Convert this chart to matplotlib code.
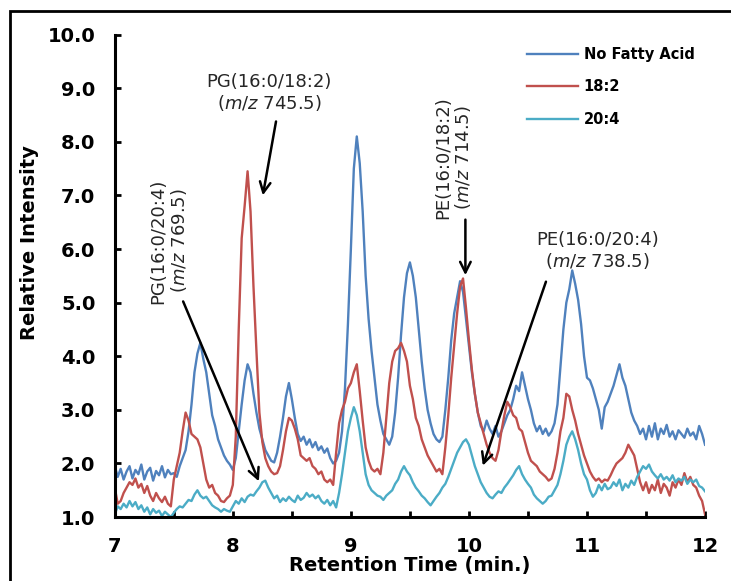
import numpy as np
import matplotlib
matplotlib.use("Agg")
import matplotlib.pyplot as plt
from matplotlib.patches import Rectangle
from matplotlib.ticker import MultipleLocator, FormatStrFormatter

plt.rcParams['font.family'] = ['DejaVu Sans']

# retention time grid (min.), one reading every 0.025 min
rt = np.linspace(7, 12, 201)

no_fatty_acid = [
    1.95, 1.75, 1.90, 1.70, 1.85, 1.95, 1.72, 1.88, 1.80, 1.98, 1.70, 1.85, 1.92, 1.68, 1.86, 1.78, 1.95, 1.74, 1.88, 1.80,
    1.82, 1.75, 1.95, 2.10, 2.25, 2.60, 3.10, 3.70, 4.05, 4.25, 3.95, 3.70, 3.30, 2.90, 2.70, 2.45, 2.30, 2.15, 2.05, 1.98,
    1.88, 2.10, 2.60, 3.10, 3.55, 3.85, 3.70, 3.30, 2.95, 2.65, 2.45, 2.25, 2.15, 2.05, 2.02, 2.20, 2.50, 2.85, 3.25, 3.50,
    3.20, 2.85, 2.55, 2.42, 2.50, 2.35, 2.45, 2.30, 2.40, 2.25, 2.32, 2.20, 2.28, 2.10, 2.00, 2.05, 2.20, 2.60, 3.40, 4.60,
    6.00, 7.50, 8.10, 7.60, 6.70, 5.50, 4.70, 4.10, 3.60, 3.10, 2.80, 2.55, 2.45, 2.35, 2.50, 2.95, 3.60, 4.40, 5.10, 5.55,
    5.75, 5.50, 5.10, 4.50, 3.90, 3.40, 3.00, 2.75, 2.55, 2.45, 2.40, 2.50, 3.00, 3.60, 4.30, 4.80, 5.10, 5.40, 5.20, 4.70,
    4.20, 3.70, 3.30, 2.95, 2.70, 2.60, 2.80, 2.65, 2.55, 2.70, 2.50, 2.60, 2.75, 2.90, 3.00, 3.20, 3.45, 3.35, 3.70, 3.45,
    3.20, 3.00, 2.75, 2.60, 2.70, 2.55, 2.65, 2.52, 2.60, 2.75, 3.10, 3.80, 4.50, 5.00, 5.25, 5.60, 5.35, 5.05, 4.60, 4.00,
    3.60, 3.55, 3.40, 3.20, 3.00, 2.65, 3.05, 3.15, 3.30, 3.45, 3.65, 3.85, 3.60, 3.45, 3.20, 2.95, 2.80, 2.70, 2.55, 2.65,
    2.45, 2.70, 2.50, 2.75, 2.45, 2.65, 2.55, 2.72, 2.50, 2.60, 2.45, 2.62, 2.55, 2.48, 2.65, 2.52, 2.58, 2.45, 2.70, 2.55,
    2.35,
]

fa_18_2 = [
    1.55, 1.25, 1.30, 1.45, 1.55, 1.65, 1.60, 1.72, 1.55, 1.62, 1.45, 1.58, 1.40, 1.30, 1.45, 1.35, 1.28, 1.38, 1.25, 1.20,
    1.70, 1.95, 2.20, 2.60, 2.95, 2.80, 2.55, 2.50, 2.45, 2.30, 2.00, 1.70, 1.55, 1.60, 1.45, 1.40, 1.30, 1.28, 1.35, 1.40,
    1.60, 2.50, 4.50, 6.20, 6.80, 7.45, 6.70, 5.30, 4.10, 2.95, 2.40, 2.10, 1.95, 1.85, 1.80, 1.82, 1.95, 2.25, 2.60, 2.85,
    2.80, 2.65, 2.45, 2.15, 2.10, 2.05, 2.10, 1.95, 1.90, 1.80, 1.85, 1.70, 1.65, 1.70, 1.60, 2.20, 2.75, 3.00, 3.15, 3.40,
    3.50, 3.70, 3.85, 3.35, 2.80, 2.30, 2.05, 1.90, 1.85, 1.90, 1.80, 2.20, 2.85, 3.50, 3.90, 4.10, 4.15, 4.25, 4.10, 3.90,
    3.45, 3.20, 2.85, 2.70, 2.45, 2.30, 2.15, 2.05, 1.95, 1.85, 1.90, 1.80, 2.30, 2.90, 3.60, 4.20, 4.80, 5.30, 5.45, 4.90,
    4.30, 3.75, 3.30, 2.95, 2.75, 2.55, 2.35, 2.20, 2.10, 2.05, 2.25, 2.60, 2.90, 3.15, 3.05, 2.90, 2.85, 2.65, 2.60, 2.40,
    2.20, 2.05, 2.00, 1.95, 1.85, 1.80, 1.75, 1.68, 1.72, 1.90, 2.20, 2.60, 2.85, 3.30, 3.25, 3.00, 2.80, 2.55, 2.35, 2.15,
    2.00, 1.85, 1.75, 1.68, 1.72, 1.65, 1.70, 1.68, 1.78, 1.90, 2.00, 2.05, 2.10, 2.20, 2.35, 2.25, 2.15, 1.90, 1.65, 1.50,
    1.65, 1.45, 1.60, 1.50, 1.70, 1.45, 1.62, 1.55, 1.40, 1.65, 1.55, 1.70, 1.60, 1.82, 1.65, 1.75, 1.60, 1.55, 1.40, 1.30,
    1.05,
]

fa_20_4 = [
    1.05, 1.20, 1.15, 1.25, 1.18, 1.30, 1.20, 1.28, 1.15, 1.22, 1.10, 1.18, 1.05, 1.15, 1.08, 1.12, 1.02, 1.10, 1.05, 1.00,
    1.08, 1.15, 1.20, 1.18, 1.25, 1.32, 1.30, 1.42, 1.50, 1.40, 1.35, 1.38, 1.30, 1.22, 1.18, 1.15, 1.10, 1.15, 1.12, 1.10,
    1.20, 1.30, 1.25, 1.35, 1.28, 1.38, 1.42, 1.40, 1.48, 1.55, 1.65, 1.68, 1.55, 1.45, 1.35, 1.40, 1.28, 1.35, 1.30, 1.38,
    1.32, 1.28, 1.40, 1.32, 1.36, 1.45, 1.38, 1.42, 1.35, 1.40, 1.30, 1.25, 1.32, 1.22, 1.30, 1.18, 1.45, 1.80, 2.20, 2.60,
    2.85, 3.05, 2.90, 2.60, 2.20, 1.80, 1.60, 1.50, 1.45, 1.40, 1.38, 1.32, 1.40, 1.45, 1.50, 1.62, 1.70, 1.85, 1.95, 1.85,
    1.78, 1.65, 1.55, 1.48, 1.40, 1.35, 1.28, 1.22, 1.30, 1.38, 1.45, 1.55, 1.62, 1.75, 1.90, 2.05, 2.20, 2.30, 2.40, 2.45,
    2.35, 2.15, 1.95, 1.80, 1.65, 1.55, 1.45, 1.38, 1.35, 1.42, 1.48, 1.45, 1.55, 1.62, 1.70, 1.78, 1.88, 1.95, 1.80, 1.70,
    1.62, 1.55, 1.42, 1.35, 1.30, 1.25, 1.30, 1.38, 1.40, 1.50, 1.60, 1.80, 2.05, 2.35, 2.50, 2.60, 2.45, 2.25, 2.00, 1.80,
    1.70, 1.50, 1.38, 1.45, 1.60, 1.50, 1.62, 1.52, 1.55, 1.65, 1.58, 1.70, 1.50, 1.62, 1.55, 1.68, 1.60, 1.75, 1.85, 1.95,
    1.90, 1.98, 1.85, 1.78, 1.72, 1.80, 1.70, 1.75, 1.68, 1.78, 1.65, 1.72, 1.68, 1.75, 1.62, 1.70, 1.65, 1.70, 1.58, 1.55,
    1.48,
]

series_names = ['No Fatty Acid', '18:2', '20:4']
series_colors = ['#4F81BD', '#C0504D', '#4BACC6']

fig = plt.figure(figsize=(7.31, 5.81), dpi=100)
ax = fig.add_axes([0.157, 0.110, 0.8075, 0.8305])

for vals, name, col in zip([no_fatty_acid, fa_18_2, fa_20_4], series_names, series_colors):
    ax.plot(rt, vals, color=col, lw=1.7, label=name, solid_joinstyle='round')

ax.set_xlim(7, 12)
ax.set_ylim(1, 10)
ax.xaxis.set_major_locator(MultipleLocator(1))
ax.xaxis.set_minor_locator(MultipleLocator(0.5))
ax.yaxis.set_major_locator(MultipleLocator(1))
ax.yaxis.set_major_formatter(FormatStrFormatter('%.1f'))
ax.spines['top'].set_visible(False)
ax.spines['right'].set_visible(False)
for s in ['left', 'bottom']:
    ax.spines[s].set_linewidth(2.2)
ax.tick_params(axis='both', which='both', direction='in', width=2, length=4)
ax.tick_params(axis='y', pad=14, labelsize=14)
ax.tick_params(axis='x', pad=14, labelsize=14)
for lab in ax.get_xticklabels() + ax.get_yticklabels():
    lab.set_fontweight('bold')

fig.text(30 / 731, 1 - 243 / 581, 'Relative Intensity', rotation=90, ha='center', va='center',
         fontsize=14, fontweight='bold')
fig.text(410 / 731, 1 - 566 / 581, 'Retention Time (min.)', ha='center', va='center',
         fontsize=14, fontweight='bold')

leg = ax.legend(loc='upper left', bbox_to_anchor=(0.698, 0.975), frameon=False,
                prop={'weight': 'bold', 'size': 10.5}, handlelength=3.5, handletextpad=0.4,
                labelspacing=1.2, borderpad=0, borderaxespad=0)

arrow = dict(arrowstyle='->', color='black', lw=1.8, mutation_scale=19)
txt = dict(fontsize=13, color='#262626', ha='center', va='center', linespacing=1.1)

ax.text(8.31, 8.91, 'PG(16:0/18:2)\n($m/z$ 745.5)', **txt)
ax.annotate('', xy=(8.25, 6.95), xytext=(8.37, 8.43), arrowprops=arrow)

ax.text(7.46, 6.15, 'PG(16:0/20:4)\n($m/z$ 769.5)', rotation=90, **txt)
ax.annotate('', xy=(8.23, 1.62), xytext=(7.57, 5.07), arrowprops=arrow)

ax.text(9.87, 7.7, 'PE(16:0/18:2)\n($m/z$ 714.5)', rotation=90, **txt)
ax.annotate('', xy=(9.97, 5.46), xytext=(9.97, 6.6), arrowprops=arrow)

ax.text(11.09, 5.96, 'PE(16:0/20:4)\n($m/z$ 738.5)', **txt)
ax.annotate('', xy=(10.11, 1.91), xytext=(10.66, 5.44), arrowprops=arrow)

fig.patches.append(Rectangle((10 / 731, -0.2), 1.2, 1.2 - 11 / 581,
                             transform=fig.transFigure, fill=False, lw=2, edgecolor='black'))

fig.savefig('out.png', dpi=100)
